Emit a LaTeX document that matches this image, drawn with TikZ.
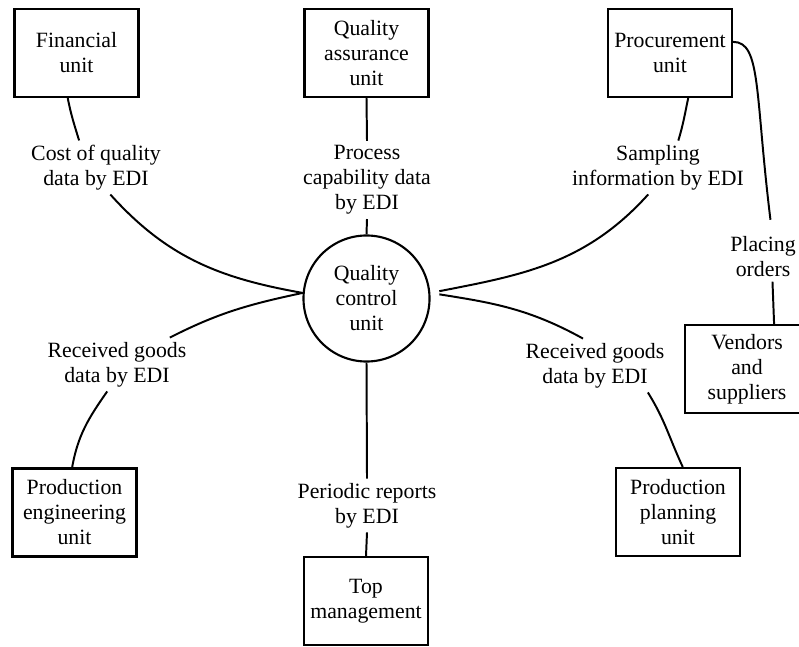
\documentclass[tikz,border=0pt]{standalone}
\usepackage{fontspec}
\setmainfont{Liberation Serif}
\usepackage{tikz}
\usepackage{xcolor}
\definecolor{inkc}{HTML}{000000}
\newcommand{\diagfont}{\fontsize{15.5}{17.8}\selectfont}
\tikzset{
  unitbox/.style={draw=inkc, line width=1.5pt, minimum width=3.1cm, minimum height=2.2cm, inner sep=1pt, align=center, font=\diagfont},
  hub/.style={draw=inkc, circle, line width=1.5pt, minimum size=3.15cm, inner sep=0pt, align=center, font=\diagfont},
  flowlabel/.style={inner sep=3pt, align=center, font=\diagfont},
  flow/.style={draw=inkc, line width=1.4pt},
}

\begin{document}
\begin{tikzpicture}[x=0.025cm, y=0.025cm]
\clip (0,0) rectangle (799,646);
\node[unitbox] (fin) at (76.5,593) {Financial\\unit};
\node[unitbox] (qa) at (366.5,593) {Quality\\assurance\\unit};
\node[unitbox] (proc) at (670,593) {Procurement\\unit};
\node[unitbox] (vend) at (747,277) {Vendors\\and\\suppliers};
\node[unitbox] (prodeng) at (74.5,133.5) {Production\\engineering\\unit};
\node[unitbox] (topm) at (366,45) {Top\\management};
\node[unitbox] (prodplan) at (678,134) {Production\\planning\\unit};
\node[hub] (qc) at (366.5,347.5) {Quality\\control\\unit};
\node[flowlabel] (cost) at (96,478.5) {Cost of quality\\data by EDI};
\node[flowlabel] (pcap) at (367,466) {Process\\capability data\\by EDI};
\node[flowlabel] (samp) at (658,478.5) {Sampling\\information by EDI};
\node[flowlabel] (place) at (763,389) {Placing\\orders};
\node[flowlabel] (recl) at (117,281.5) {Received goods\\data by EDI};
\node[flowlabel] (recr) at (595,280.5) {Received goods\\data by EDI};
\node[flowlabel] (per) at (367,140.5) {Periodic reports\\by EDI};
\draw[flow] (fin.259) to[out=-79,in=107] (cost.122);
\draw[flow] (cost.298) to[out=-48,in=170] (qc.175);
\draw[flow] (qa.south) -- (pcap.north);
\draw[flow] (pcap.south) -- (qc.north);
\draw[flow] (proc.292) to[out=-102,in=73] (samp.53);
\draw[flow, shorten <=6.5pt] (qc.5) to[out=11,in=228] (samp.250);
\draw[flow, shorten <=6.5pt] (qc.5) to[out=-9,in=151] (recr.114);
\draw[flow] (recr.333) to[out=-58,in=115] (prodplan.84);
\draw[flow] (qc.175) to[out=192,in=27] (recl.27);
\draw[flow] (recl.250) to[out=235,in=80] (prodeng.93);
\draw[flow] (qc.south) -- (per.north);
\draw[flow] (per.south) -- (topm.north);
\draw[flow, shorten >=9pt] (proc.10) to[out=0,in=97,out distance=20,in distance=100] (place.70);
\draw[flow] (place.291) -- (vend.59);
\end{tikzpicture}
\end{document}
